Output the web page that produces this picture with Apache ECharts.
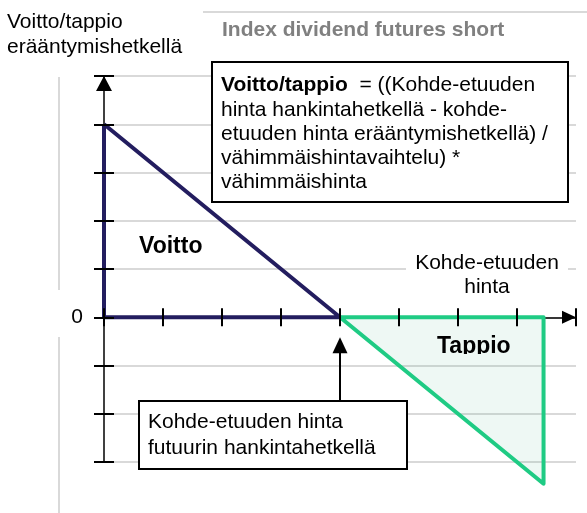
<!DOCTYPE html>
<html>
<head>
<meta charset="utf-8">
<script src="https://cdn.jsdelivr.net/npm/echarts@6/dist/echarts.min.js"></script>
<style>
  html, body { margin: 0; padding: 0; background: #fff; }
  #chart { width: 587px; height: 513px; }
</style>
</head>
<body>
<div id="chart"></div>
<script>
// voittoalue: kohde-etuuden hinta (x) ja voitto/tappio (y)
const profitX = [0, 0, 4, 0];
const profitY = [4, 0, 0, 4];
// tappioalue
const lossX = [4, 7.45, 7.45, 4];
const lossY = [0, 0, -3.45, 0];
// hankintahinta ja nuolen alku/loppu
const entryPrice = 4;
const arrowY = [-1.74, -0.58];
// akselit
const xRange = [0, 8];
const yRange = [-3, 5];
const yTickLabels = { 0: '0' };

const FONT = '"Liberation Sans", Arial, sans-serif';
const LOSS_FILL = 'rgba(40,160,110,0.08)';
const zip = (xs, ys) => xs.map((x, i) => [x, ys[i]]);

const chart = echarts.init(document.getElementById('chart'));

const xBase = {
  type: 'value', min: xRange[0], max: xRange[1], interval: 1,
  position: 'bottom',
  axisLabel: { show: false },
  splitLine: { show: false }
};
const yBase = {
  type: 'value', min: yRange[0], max: yRange[1], interval: 1,
  position: 'left',
  axisLabel: { show: false },
  splitLine: { show: false }
};

const option = {
  animation: false,
  grid: { left: 104, right: 11, top: 76, bottom: 51, containLabel: false },
  xAxis: [
    Object.assign({}, xBase, {
      z: 0,
      axisTick: { show: false },
      axisLine: {
        onZero: true, onZeroAxisIndex: 0,
        symbol: ['none', 'triangle'], symbolSize: [13, 14], symbolOffset: [0, -7],
        lineStyle: { color: '#000', width: 1.5 }
      }
    }),
    Object.assign({}, xBase, {
      z: 5,
      axisLine: { show: false, onZero: true, onZeroAxisIndex: 0 },
      axisTick: { show: true, inside: false, length: 9, lineStyle: { color: '#000', width: 2 } }
    }),
    Object.assign({}, xBase, {
      z: 5,
      axisLine: { show: false, onZero: true, onZeroAxisIndex: 0 },
      axisTick: { show: true, inside: true, length: 9, lineStyle: { color: '#000', width: 2 } }
    })
  ],
  yAxis: [
    Object.assign({}, yBase, {
      z: 0,
      axisTick: { show: false },
      axisLine: {
        show: true,
        symbol: ['none', 'triangle'], symbolSize: [16, 15], symbolOffset: [0, -7.5],
        lineStyle: { color: '#000', width: 1.5 }
      },
      splitLine: { show: true, lineStyle: { color: '#d9d9d9', width: 2 } }
    }),
    Object.assign({}, yBase, {
      z: 5,
      axisLine: { show: false },
      axisTick: { show: true, inside: false, length: 10, lineStyle: { color: '#000', width: 2 } },
      axisLabel: {
        show: true, margin: 21, color: '#000', fontSize: 21, fontFamily: FONT,
        formatter: v => yTickLabels[v] || ''
      }
    }),
    Object.assign({}, yBase, {
      z: 5,
      axisLine: { show: false },
      axisTick: { show: true, inside: true, length: 10, lineStyle: { color: '#000', width: 2 } }
    })
  ],
  series: [
    {
      name: 'Voitto', type: 'line', data: zip(profitX, profitY),
      symbol: 'none', clip: false, z: 2,
      lineStyle: { color: '#231d5f', width: 4, join: 'round' }
    },
    {
      name: 'Tappio', type: 'line', data: zip(lossX, lossY),
      symbol: 'none', clip: false, z: 2,
      lineStyle: { color: '#1fcb84', width: 4, join: 'round' },
      areaStyle: { color: LOSS_FILL, opacity: 1, origin: 0 },
      markLine: {
        silent: true, animation: false,
        symbol: ['none', 'triangle'], symbolSize: [15, 16],
        label: { show: false },
        lineStyle: { color: '#000', width: 2, type: 'solid' },
        data: [[{ coord: [entryPrice, arrowY[0]] }, { coord: [entryPrice, arrowY[1]] }]]
      }
    }
  ],
  graphic: [
    // reunaviivat
    { type: 'line', z: 1, shape: { x1: 203, y1: 12, x2: 587, y2: 12 }, style: { stroke: '#d9d9d9', lineWidth: 2 } },
    { type: 'line', z: 1, shape: { x1: 59, y1: 77, x2: 59, y2: 290 }, style: { stroke: '#d9d9d9', lineWidth: 2 } },
    { type: 'line', z: 1, shape: { x1: 59, y1: 337, x2: 59, y2: 513 }, style: { stroke: '#d9d9d9', lineWidth: 2 } },
    {
      type: 'text', z: 100, x: 7, y: 34.5,
      style: {
        text: 'Voitto/tappio\nerääntymishetkellä', font: '21px ' + FONT,
        lineHeight: 25, fill: '#000', textAlign: 'left', textVerticalAlign: 'middle'
      }
    },
    {
      type: 'text', z: 100, x: 222, y: 30,
      style: {
        text: 'Index dividend futures short', font: 'bold 21px ' + FONT,
        fill: '#808080', textAlign: 'left', textVerticalAlign: 'middle'
      }
    },
    // kaava
    { type: 'rect', z: 100, shape: { x: 212, y: 62, width: 356, height: 140 }, style: { fill: '#fff', stroke: '#000', lineWidth: 2 } },
    {
      type: 'text', z: 101, x: 221, y: 134,
      style: {
        text: '{b|Voitto/tappio}  = ((Kohde-etuuden\nhinta hankintahetkellä - kohde-\netuuden hinta erääntymishetkellä) /\nvähimmäishintavaihtelu) *\nvähimmäishinta',
        font: '21px ' + FONT, lineHeight: 24.2, fill: '#000',
        textAlign: 'left', textVerticalAlign: 'middle',
        rich: { b: { fontWeight: 'bold', fontSize: 21, fontFamily: FONT, lineHeight: 24.2 } }
      }
    },
    {
      type: 'text', z: 100, x: 139, y: 247,
      style: { text: 'Voitto', font: 'bold 23px ' + FONT, fill: '#000', textAlign: 'left', textVerticalAlign: 'middle' }
    },
    {
      type: 'text', z: 100, x: 437, y: 347,
      style: { text: 'Tappio', font: 'bold 23px ' + FONT, fill: '#000', textAlign: 'left', textVerticalAlign: 'middle' }
    },
    // tekstin alareuna leikattu kuten alkuperäisessä
    { type: 'rect', z: 101, shape: { x: 430, y: 354, width: 90, height: 9 }, style: { fill: '#fff' } },
    { type: 'rect', z: 102, shape: { x: 430, y: 354, width: 90, height: 9 }, style: { fill: LOSS_FILL } },
    // x-akselin nimi
    { type: 'rect', z: 100, shape: { x: 406, y: 252, width: 162, height: 46 }, style: { fill: '#fff' } },
    {
      type: 'text', z: 101, x: 487, y: 275,
      style: {
        text: 'Kohde-etuuden\nhinta', font: '21px ' + FONT, lineHeight: 24,
        fill: '#000', textAlign: 'center', textVerticalAlign: 'middle'
      }
    },
    // hankintahetki
    { type: 'rect', z: 100, shape: { x: 139, y: 401, width: 268, height: 68 }, style: { fill: '#fff', stroke: '#000', lineWidth: 2 } },
    {
      type: 'text', z: 101, x: 148, y: 435.5,
      style: {
        text: 'Kohde-etuuden hinta\nfutuurin hankintahetkellä', font: '21px ' + FONT,
        lineHeight: 26, fill: '#000', textAlign: 'left', textVerticalAlign: 'middle'
      }
    }
  ]
};

chart.setOption(option);
</script>
</body>
</html>
